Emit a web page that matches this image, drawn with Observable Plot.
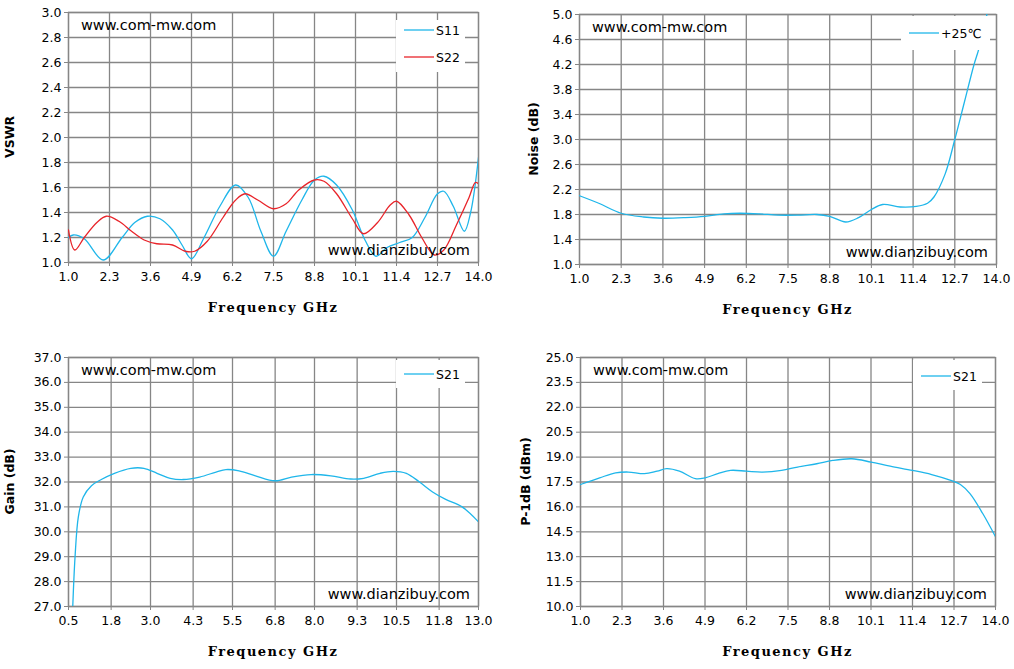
<!DOCTYPE html>
<html><head><meta charset="utf-8">
<script src="https://cdn.jsdelivr.net/npm/d3@7"></script>
<script src="https://cdn.jsdelivr.net/npm/@observablehq/plot@0.6"></script>
<style>
body{margin:0;background:#fff;width:1014px;height:669px;position:relative;overflow:hidden}
.p{position:absolute}
</style></head><body>
<div id="tl" class="p" style="left:0;top:0"></div>
<div id="tr" class="p" style="left:500px;top:0"></div>
<div id="bl" class="p" style="left:0;top:340px"></div>
<div id="br" class="p" style="left:500px;top:340px"></div>
<script>
const freqTicks = [1.0,2.3,3.6,4.9,6.2,7.5,8.8,10.1,11.4,12.7,14.0];
const gainFreqTicks = [0.5,1.8,3.0,4.3,5.5,6.8,8.0,9.3,10.5,11.8,13.0];
const vswrTicks = [1.0,1.2,1.4,1.6,1.8,2.0,2.2,2.4,2.6,2.8,3.0];
const noiseTicks = [1.0,1.4,1.8,2.2,2.6,3.0,3.4,3.8,4.2,4.6,5.0];
const gainTicks = [27,28,29,30,31,32,33,34,35,36,37];
const p1dbTicks = [10.0,11.5,13.0,14.5,16.0,17.5,19.0,20.5,22.0,23.5,25.0];

const s11 = [[1.0,1.20],[1.15,1.22],[1.5,1.19],[2.1,1.02],[2.7,1.2],[3.1,1.32],[3.5,1.37],[3.9,1.35],[4.3,1.26],[4.6,1.14],[4.9,1.03],[5.3,1.2],[5.8,1.45],[6.3,1.62],[6.7,1.52],[7.1,1.25],[7.5,1.05],[7.9,1.25],[8.4,1.5],[8.8,1.66],[9.1,1.69],[9.5,1.62],[10.0,1.42],[10.4,1.18],[10.75,1.05],[11.1,1.12],[11.5,1.16],[11.9,1.2],[12.3,1.36],[12.7,1.55],[12.9,1.57],[13.2,1.45],[13.55,1.25],[13.75,1.4],[14.0,1.84]];
const s22 = [[1.0,1.26],[1.2,1.10],[1.5,1.2],[1.9,1.32],[2.2,1.37],[2.6,1.33],[3.0,1.25],[3.4,1.18],[3.8,1.15],[4.3,1.14],[4.7,1.09],[5.0,1.09],[5.4,1.17],[5.9,1.36],[6.3,1.5],[6.6,1.55],[7.0,1.5],[7.5,1.43],[7.9,1.47],[8.3,1.58],[8.8,1.66],[9.1,1.65],[9.5,1.55],[10.0,1.35],[10.35,1.23],[10.8,1.32],[11.2,1.46],[11.4,1.49],[11.8,1.38],[12.2,1.2],[12.6,1.06],[12.9,1.1],[13.3,1.3],[13.7,1.52],[13.9,1.64],[14.0,1.63]];
const noise = [[1.0,2.10],[1.6,1.98],[2.3,1.82],[3.0,1.76],[3.6,1.74],[4.3,1.75],[4.9,1.77],[5.5,1.81],[6.0,1.82],[6.6,1.81],[7.2,1.79],[7.8,1.79],[8.4,1.80],[8.8,1.77],[9.3,1.68],[9.7,1.75],[10.1,1.88],[10.45,1.96],[11.0,1.92],[11.5,1.93],[11.85,1.98],[12.05,2.08],[12.4,2.45],[12.7,3.0],[13.0,3.6],[13.3,4.2],[13.45,4.45],[13.7,5.0]];
const gain = [[0.63,27.0],[0.7,29.0],[0.8,30.6],[0.95,31.4],[1.2,31.85],[1.5,32.1],[1.9,32.35],[2.4,32.55],[2.8,32.55],[3.2,32.35],[3.6,32.15],[4.0,32.1],[4.5,32.2],[5.0,32.4],[5.3,32.5],[5.7,32.45],[6.2,32.25],[6.8,32.05],[7.3,32.2],[7.9,32.3],[8.5,32.25],[9.1,32.12],[9.5,32.15],[10.0,32.35],[10.4,32.43],[10.8,32.35],[11.2,32.0],[11.6,31.6],[12.0,31.3],[12.5,31.0],[13.0,30.4]];
const p1db = [[1.0,17.35],[1.6,17.75],[2.1,18.05],[2.5,18.1],[3.0,18.0],[3.4,18.15],[3.7,18.3],[4.1,18.15],[4.6,17.7],[4.9,17.75],[5.3,18.0],[5.7,18.2],[6.2,18.15],[6.7,18.1],[7.3,18.2],[7.8,18.4],[8.4,18.6],[8.9,18.8],[9.5,18.9],[10.1,18.7],[10.7,18.45],[11.4,18.2],[12.0,17.95],[12.6,17.6],[12.9,17.35],[13.2,16.8],[13.6,15.6],[14.0,14.2]];

const BLUE = "#1fb6ea", RED = "#e8242a", GRID = "#868686";

function chart(el, c){
  const W=c.width, H=c.height;
  const m = c.margin;
  const marks = [
    Plot.gridX(c.xt, {stroke:GRID, strokeOpacity:1, strokeWidth:1.3}),
    Plot.gridY(c.yt, {stroke:GRID, strokeOpacity:1, strokeWidth:1.3}),
    Plot.frame({stroke:GRID, strokeWidth:1.3}),
    Plot.axisX(c.xt, {tickSize:4, stroke:GRID, tickFormat:d=>d.toFixed(1), fontSize:12.5, fill:"#000", tickPadding:6, label:null}),
    Plot.axisY(c.yt, {tickSize:4, stroke:GRID, tickFormat:d=>d.toFixed(1), fontSize:12.5, fill:"#000", tickPadding:3, label:null}),
  ];
  c.series.forEach(s=>{
    marks.push(Plot.line(s.data, {x:d=>d[0], y:d=>d[1], stroke:s.color, strokeWidth:1.3, curve:"catmull-rom", clip:true}));
  });
  const svg = Plot.plot({
    width:W, height:H, marginLeft:m[3], marginRight:m[1], marginTop:m[0], marginBottom:m[2],
    style:{fontFamily:"DejaVu Sans", background:"#fff", overflow:"visible"},
    x:{domain:c.xd, type:"linear"}, y:{domain:c.yd},
    marks
  });
  el.appendChild(svg);
  const s = d3.select(svg).append("g").attr("text-anchor","start");
  const left=m[3], top=m[0], right=W-m[1], bottom=H-m[2];
  s.append("text").attr("x",(left+right)/2).attr("y",bottom+50).attr("text-anchor","middle")
    .attr("font-family","DejaVu Serif").attr("font-weight","bold").attr("font-size",13).attr("letter-spacing","1.5px").text("Frequency GHz");
  s.append("text").attr("transform",`translate(${c.ylx},${(top+bottom)/2}) rotate(-90)`).attr("text-anchor","middle")
    .attr("font-family","DejaVu Sans").attr("font-weight","bold").attr("font-size",12.5).text(c.ylabel);
  s.append("text").attr("x",left+13).attr("y",top+18).attr("font-family","DejaVu Sans").attr("font-size",14.5).text("www.com-mw.com");
  s.append("text").attr("x",right-8).attr("y",bottom-7).attr("text-anchor","end").attr("font-family","DejaVu Sans").attr("font-size",14.5).text("www.dianzibuy.com");
  const lg = c.legend;
  s.append("rect").attr("x",lg.x).attr("y",lg.y).attr("width",lg.w).attr("height",lg.h).attr("fill","#fff");
  c.series.forEach((se,i)=>{
    const yy = lg.y+lg.first+i*27;
    s.append("line").attr("x1",lg.x+8).attr("x2",lg.x+38).attr("y1",yy).attr("y2",yy).attr("stroke",se.color).attr("stroke-width",1.3);
    s.append("text").attr("x",lg.x+40).attr("y",yy+4.5).attr("font-family","DejaVu Sans").attr("font-size",12.5).text(se.name);
  });
}

chart(document.getElementById("tl"), {width:500,height:320,margin:[12,22,58,68],xd:[1,14],yd:[1,3],xt:freqTicks,yt:vswrTicks,ylabel:"VSWR",ylx:14,
  series:[{name:"S11",data:s11,color:BLUE},{name:"S22",data:s22,color:RED}], legend:{x:396,y:20,w:69,h:52,first:10}});
chart(document.getElementById("tr"), {width:514,height:320,margin:[14,18,56,79],xd:[1,14],yd:[1,5],xt:freqTicks,yt:noiseTicks,ylabel:"Noise (dB)",ylx:38,
  series:[{name:"+25℃",data:noise,color:BLUE}], legend:{x:401,y:16,w:89,h:34,first:17}});
chart(document.getElementById("bl"), {width:500,height:329,margin:[17,22,63,68],xd:[0.5,13],yd:[27,37],xt:gainFreqTicks,yt:gainTicks,ylabel:"Gain (dB)",ylx:14,
  series:[{name:"S21",data:gain,color:BLUE}], legend:{x:396,y:20,w:69,h:28,first:14}});
chart(document.getElementById("br"), {width:514,height:329,margin:[17,19,63,80],xd:[1,14],yd:[10,25],xt:freqTicks,yt:p1dbTicks,ylabel:"P-1dB (dBm)",ylx:30,
  series:[{name:"S21",data:p1db,color:BLUE}], legend:{x:413,y:20,w:69,h:30,first:16}});
</script></body></html>
